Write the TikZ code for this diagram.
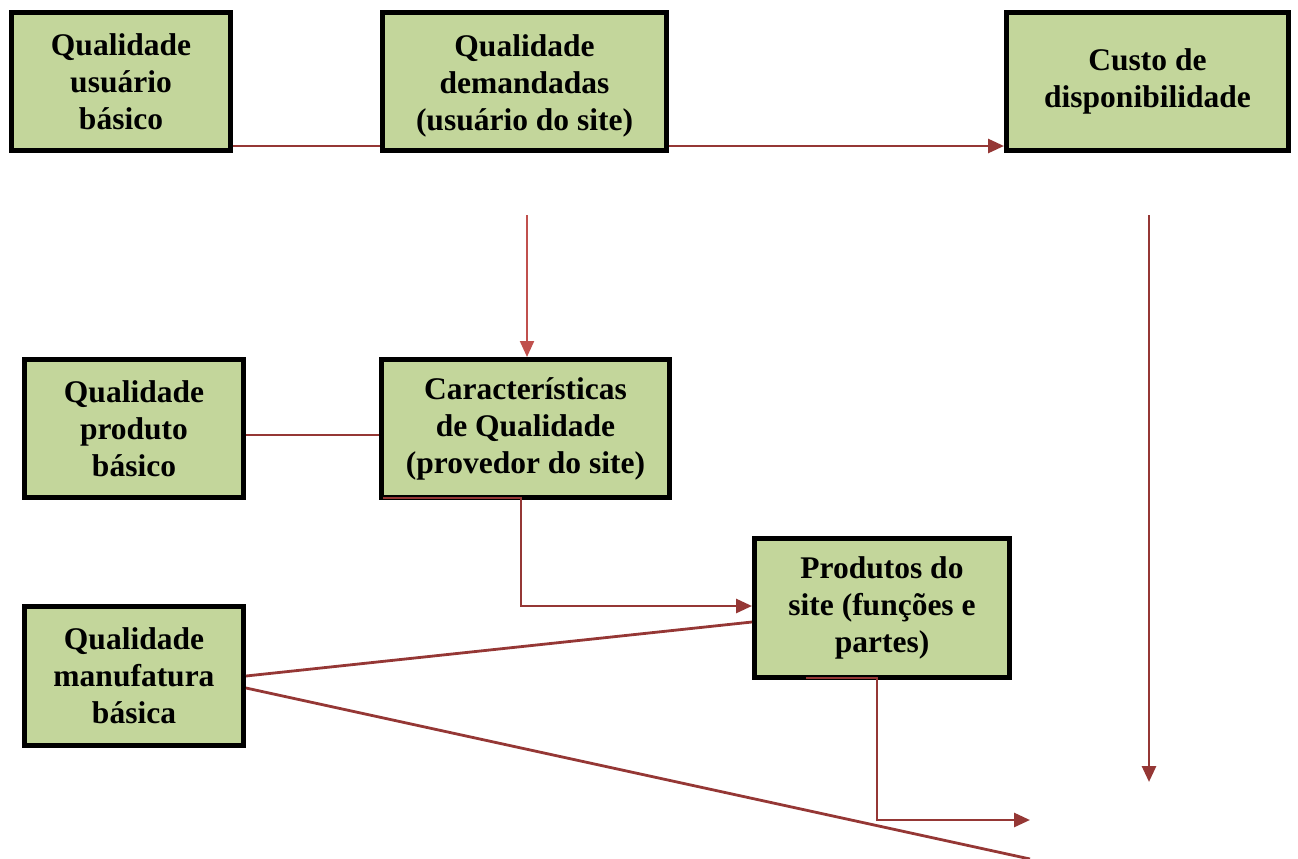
\documentclass[tikz,border=0pt]{standalone}
\usepackage{fontspec}
\setmainfont{Liberation Serif}
\usetikzlibrary{arrows.meta}
\definecolor{boxgreen}{HTML}{C3D69B}
\definecolor{connred}{HTML}{953735}
\definecolor{lightred}{HTML}{C0504D}
\tikzset{
  box/.style={draw=black, line width=5pt, fill=boxgreen, align=center, inner sep=0pt,
    font=\bfseries\fontsize{31.5}{37}\selectfont},
  conn/.style={draw=connred, line width=2.8pt},
  arr/.style={-{Triangle[length=16pt,width=14pt]}},
}
\begin{document}
\begin{tikzpicture}[x=1pt,y=-1pt]
\useasboundingbox (0,0) rectangle (1298,859);
\node[box, minimum width=219pt, minimum height=138pt] (b1) at (121,81.5) {Qualidade\\usuário\\básico};
\node[box, minimum width=284pt, minimum height=138pt] (b2) at (524.5,81.5) {\raisebox{-11pt}[0pt][0pt]{\parbox{280pt}{\centering Qualidade\\demandadas\\(usuário do site)}}};
\node[box, minimum width=282pt, minimum height=138pt] (b3) at (1147.5,81.5) {Custo de\\disponibilidade};
\node[box, minimum width=219pt, minimum height=138pt] (b4) at (134,428.5) {Qualidade\\produto\\básico};
\node[box, minimum width=288pt, minimum height=138pt] (b5) at (525.5,428.5) {Características\\de Qualidade\\(provedor do site)};
\node[box, minimum width=255pt, minimum height=139pt] (b6) at (882,608) {Produtos do\\site (funções e\\partes)};
\node[box, minimum width=219pt, minimum height=139pt] (b7) at (134,676) {Qualidade\\manufatura\\básica};

\coordinate (s1) at (527,215);
\coordinate (s2) at (1149,215);
\coordinate (e2) at (1149,782);
\coordinate (k1) at (521,606);
\coordinate (k2) at (877,820);
\coordinate (e3) at (1030,820);
\coordinate (e4) at (1030,859);

\draw[conn] ([yshift=7pt]b1.south east) -- ([yshift=7pt]b2.south west);
\draw[conn,arr] ([yshift=7pt]b2.south east) -- ([yshift=7pt]b3.south west);
\draw[draw=lightred, line width=2.2pt, arr] (s1) -- (s1 |- b5.north);
\draw[conn,arr] (s2) -- (e2);
\draw[conn] ([yshift=-6.5pt]b4.east) -- ([yshift=-6.5pt]b5.west);
\draw[conn,arr] ([xshift=4pt,yshift=2pt]b5.south west) -| (k1) -- (k1 -| b6.west);
\draw[conn] (b7.east) -- ([yshift=-14pt]b6.west);
\draw[conn] ([yshift=-12pt]b7.east) -- (e4);
\draw[conn,arr] ([xshift=-76pt,yshift=2pt]b6.south) -| (k2) -- (e3);
\end{tikzpicture}
\end{document}
